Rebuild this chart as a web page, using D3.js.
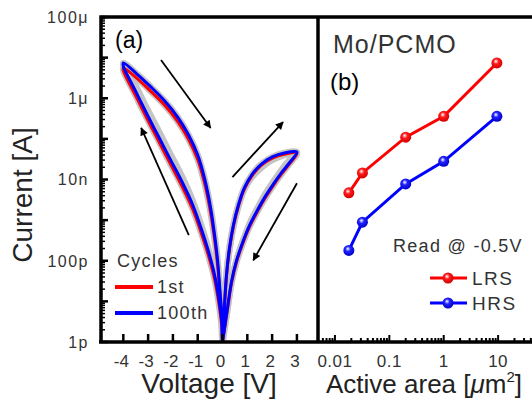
<!DOCTYPE html>
<html>
<head>
<meta charset="utf-8">
<script src="https://cdn.jsdelivr.net/npm/d3@7"></script>
<style>
  body { margin: 0; background: #fff; }
  svg { display: block; font-family: "Liberation Sans", Arial, sans-serif; }
</style>
</head>
<body>
<svg id="chart" width="532" height="403"></svg>
<script>
// ---- data ----
var voltTicks = [-4, -3, -2, -1, 0, 1, 2, 3];
var currentTicks = [1e-4, 1e-6, 1e-8, 1e-10, 1e-12];
var currentLabels = ["100μ", "1μ", "10n", "100p", "1p"];
var areaTicks = [0.01, 0.1, 1, 10];
var areaLabels = ["0.01", "0.1", "1", "10"];

// sweep 0 -> -4 -> 0 -> 3 -> 0, [voltage V, |current| A]
var cycle100th = [
  [0, 1e-12], [-0.04, 3.5e-12], [-0.16, 1.28e-11], [-0.32, 4.5e-11], [-0.56, 1.64e-10],
  [-0.84, 5.7e-10], [-1.2, 2.35e-9], [-1.61, 8.2e-9], [-2.09, 3.0e-8], [-2.57, 1.11e-7],
  [-3.05, 4.1e-7], [-3.53, 1.6e-6], [-4, 6.2e-6],
  [-4, 7.4e-6], [-3.45, 3.95e-6], [-2.89, 1.9e-6], [-2.33, 8.55e-7], [-1.81, 3.45e-7],
  [-1.37, 1.25e-7], [-1.0, 4.0e-8], [-0.72, 1.03e-8], [-0.48, 1.99e-9], [-0.32, 4.3e-10],
  [-0.2, 1.04e-10], [-0.12, 2.5e-11], [-0.04, 5.5e-12], [0, 1e-12],
  [0.08, 8.1e-12], [0.16, 4.5e-11], [0.28, 2.06e-10], [0.44, 7.6e-10], [0.64, 2.35e-9],
  [0.88, 6.2e-9], [1.2, 1.36e-8], [1.57, 2.4e-8], [2.01, 3.6e-8], [2.49, 4.5e-8], [3, 4.75e-8],
  [2.69, 2.55e-8], [2.37, 1.45e-8], [2.05, 7.7e-9], [1.73, 3.9e-9], [1.41, 1.77e-9],
  [1.08, 7.2e-10], [0.8, 2.7e-10], [0.56, 9.9e-11], [0.36, 3.0e-11], [0.2, 6.9e-12], [0, 1e-12]
];
var cycle1st = [
  [0, 1e-12], [-0.04, 2.8e-12], [-0.16, 1.0e-11], [-0.32, 3.5e-11], [-0.56, 1.3e-10],
  [-0.84, 4.5e-10], [-1.2, 1.85e-9], [-1.61, 6.4e-9], [-2.09, 2.35e-8], [-2.57, 8.7e-8],
  [-3.05, 3.2e-7], [-3.53, 1.25e-6], [-4, 4.8e-6],
  [-4, 5.6e-6], [-3.45, 3.1e-6], [-2.89, 1.48e-6], [-2.33, 6.7e-7], [-1.81, 2.7e-7],
  [-1.37, 9.8e-8], [-1.0, 3.1e-8], [-0.72, 8.0e-9], [-0.48, 1.55e-9], [-0.32, 3.4e-10],
  [-0.2, 8.1e-11], [-0.12, 2.0e-11], [-0.04, 4.3e-12], [0, 1e-12],
  [0.08, 7.5e-12], [0.16, 4.2e-11], [0.28, 1.9e-10], [0.44, 7.1e-10], [0.64, 2.2e-9],
  [0.88, 5.8e-9], [1.2, 1.27e-8], [1.57, 2.25e-8], [2.01, 3.35e-8], [2.49, 4.2e-8], [3, 4.45e-8],
  [2.69, 2.4e-8], [2.37, 1.35e-8], [2.05, 7.2e-9], [1.73, 3.6e-9], [1.41, 1.65e-9],
  [1.08, 6.7e-10], [0.8, 2.5e-10], [0.56, 9.2e-11], [0.36, 2.8e-11], [0.2, 6.4e-12], [0, 1e-12]
];
// two of the intermediate cycles (gray band)
var cycleMidA = [
  [0, 1e-12], [-0.04, 4.5e-12], [-0.16, 1.7e-11], [-0.32, 6.2e-11], [-0.56, 2.4e-10],
  [-0.84, 8.6e-10], [-1.2, 3.6e-9], [-1.61, 1.3e-8], [-2.09, 4.8e-8], [-2.57, 1.8e-7],
  [-3.05, 6.6e-7], [-3.53, 2.5e-6], [-4, 6.4e-6],
  [-4, 7.4e-6], [-3.45, 4.1e-6], [-2.89, 2.0e-6], [-2.33, 8.9e-7], [-1.81, 3.6e-7],
  [-1.37, 1.3e-7], [-1.0, 4.2e-8], [-0.72, 1.08e-8], [-0.48, 2.1e-9], [-0.32, 4.5e-10],
  [-0.2, 1.1e-10], [-0.12, 2.6e-11], [-0.04, 5.8e-12], [0, 1e-12],
  [0.08, 7.8e-12], [0.16, 4.3e-11], [0.28, 1.9e-10], [0.44, 6.8e-10], [0.64, 2.0e-9],
  [0.88, 5.0e-9], [1.2, 1.05e-8], [1.57, 1.8e-8], [2.01, 2.8e-8], [2.49, 3.7e-8], [2.95, 4.4e-8],
  [2.69, 3.3e-8], [2.37, 1.9e-8], [2.05, 1.0e-8], [1.73, 5.1e-9], [1.41, 2.3e-9],
  [1.08, 9.4e-10], [0.8, 3.5e-10], [0.56, 1.29e-10], [0.36, 3.9e-11], [0.2, 9e-12], [0, 1e-12]
];
var cycleMidB = [
  [0, 1e-12], [-0.04, 4.2e-12], [-0.16, 1.6e-11], [-0.32, 5.6e-11], [-0.56, 2.1e-10],
  [-0.84, 7.3e-10], [-1.2, 3.0e-9], [-1.61, 1.07e-8], [-2.09, 3.9e-8], [-2.57, 1.45e-7],
  [-3.05, 5.3e-7], [-3.53, 2.1e-6], [-4, 6.3e-6],
  [-4, 7.2e-6], [-3.45, 3.75e-6], [-2.89, 1.8e-6], [-2.33, 8.1e-7], [-1.81, 3.3e-7],
  [-1.37, 1.19e-7], [-1.0, 3.8e-8], [-0.72, 9.8e-9], [-0.48, 1.9e-9], [-0.32, 4.1e-10],
  [-0.2, 9.9e-11], [-0.12, 2.4e-11], [-0.04, 5.2e-12], [0, 1e-12],
  [0.08, 8e-12], [0.16, 4.4e-11], [0.28, 2.0e-10], [0.44, 7.2e-10], [0.64, 2.15e-9],
  [0.88, 5.5e-9], [1.2, 1.2e-8], [1.57, 2.1e-8], [2.01, 3.2e-8], [2.49, 4.1e-8], [2.98, 4.6e-8],
  [2.69, 2.9e-8], [2.37, 1.67e-8], [2.05, 8.9e-9], [1.73, 4.5e-9], [1.41, 2.0e-9],
  [1.08, 8.3e-10], [0.8, 3.1e-10], [0.56, 1.14e-10], [0.36, 3.45e-11], [0.2, 7.9e-12], [0, 1e-12]
];
// sweep direction arrows, [from, to] in [V, A]
var sweepArrows = [
  [[-2.48, 8.7e-6], [-0.48, 1.86e-7]],
  [[-1.36, 4.3e-10], [-3.28, 1.86e-7]],
  [[0.4, 1.15e-8], [2.44, 2.6e-7]],
  [[3.0, 8.1e-9], [1.24, 1.02e-10]]
];

// panel (b): read current at -0.5 V vs. active area (um^2)
var activeArea = [0.018, 0.032, 0.2, 1, 9.5];
var lrsCurrent = [4.7e-9, 1.45e-8, 1.1e-7, 3.6e-7, 7.4e-6];
var hrsCurrent = [1.8e-10, 8.9e-10, 7.8e-9, 2.8e-8, 3.6e-7];

// ---- layout ----
var svg = d3.select("#chart");
var plotTop = 17, plotBottom = 342, leftA = 101, divider = 318, rightEdge = 532;
var tickColor = "#333";

var x = d3.scaleLinear().domain([-4.9, 3.85]).range([leftA, divider]);
var y = d3.scaleLog().domain([1e-12, 1e-4]).range([plotBottom, plotTop]);
var xb = d3.scaleLog().domain([0.00488, 42]).range([divider, rightEdge]);

var defs = svg.append("defs");
defs.append("clipPath").attr("id", "clipA").append("rect")
  .attr("x", leftA).attr("y", plotTop).attr("width", divider - leftA).attr("height", plotBottom - plotTop);
defs.append("marker").attr("id", "arrowHead")
  .attr("viewBox", "0 0 10 10").attr("refX", 9).attr("refY", 5)
  .attr("markerWidth", 12).attr("markerHeight", 8).attr("markerUnits", "userSpaceOnUse")
  .attr("orient", "auto")
  .append("path").attr("d", "M0,0 L10,5 L0,10 Z").attr("fill", "#000");

function ballGradient(id, col, dark) {
  var g = defs.append("radialGradient").attr("id", id)
    .attr("cx", "45%").attr("cy", "40%").attr("r", "60%").attr("fx", "40%").attr("fy", "35%");
  g.append("stop").attr("offset", "0%").attr("stop-color", "#fff");
  g.append("stop").attr("offset", "40%").attr("stop-color", col);
  g.append("stop").attr("offset", "100%").attr("stop-color", dark);
}
ballGradient("ballRed", "#ff1a1a", "#d00000");
ballGradient("ballBlue", "#2020ff", "#0000c8");

// ---- panel (a): I-V curves ----
var line = d3.line()
  .x(function(d) { return x(d[0]); })
  .y(function(d) { return y(d[1]); })
  .curve(d3.curveCatmullRom.alpha(0.5));

var curves = svg.append("g").attr("clip-path", "url(#clipA)");
[cycle1st, cycle100th].forEach(function(c) {
  curves.append("path").attr("d", line(c)).attr("fill", "none")
    .attr("stroke", "#c4c4c4").attr("stroke-width", 6.5).attr("stroke-linejoin", "round");
});
[cycleMidA, cycleMidB].forEach(function(c) {
  curves.append("path").attr("d", line(c)).attr("fill", "none")
    .attr("stroke", "#c4c4c4").attr("stroke-width", 4).attr("stroke-linejoin", "round");
});
curves.append("path").attr("d", line(cycle1st)).attr("fill", "none")
  .attr("stroke", "#ff0000").attr("stroke-width", 3).attr("stroke-linejoin", "round");
curves.append("path").attr("d", line(cycle100th)).attr("fill", "none")
  .attr("stroke", "#0000ff").attr("stroke-width", 3).attr("stroke-linejoin", "round");

svg.append("g").selectAll("line").data(sweepArrows).enter().append("line")
  .attr("x1", function(d) { return x(d[0][0]); })
  .attr("y1", function(d) { return y(d[0][1]); })
  .attr("x2", function(d) { return x(d[1][0]); })
  .attr("y2", function(d) { return y(d[1][1]); })
  .attr("stroke", "#000").attr("stroke-width", 1.8)
  .attr("marker-end", "url(#arrowHead)");

// y axis (inward ticks)
var yMinor = [];
for (var e = -12; e < -4; e++) {
  for (var m = 2; m <= 9; m++) yMinor.push(m * Math.pow(10, e));
}
var yDecades = d3.range(-12, -3).map(function(e) { return Math.pow(10, e); });
var yAxisG = svg.append("g").attr("transform", "translate(" + leftA + ",0)");
yAxisG.selectAll(".minor").data(yMinor).enter().append("line")
  .attr("x1", 0).attr("x2", 4).attr("y1", y).attr("y2", y)
  .attr("stroke", "#000").attr("stroke-width", 1.5);
yAxisG.selectAll(".major").data(yDecades).enter().append("line")
  .attr("x1", 0).attr("x2", 7).attr("y1", y).attr("y2", y)
  .attr("stroke", "#000").attr("stroke-width", 2.5);
yAxisG.selectAll("text").data(currentTicks).enter().append("text")
  .attr("x", -12).attr("y", y).attr("dy", "0.36em")
  .attr("text-anchor", "end").attr("font-size", 16).attr("letter-spacing", 1.5)
  .attr("fill", tickColor)
  .text(function(d, i) { return currentLabels[i]; });

// x axis of panel (a)
var xAxisG = svg.append("g").attr("transform", "translate(0," + plotBottom + ")");
xAxisG.selectAll("line").data(voltTicks).enter().append("line")
  .attr("x1", x).attr("x2", x).attr("y1", 0).attr("y2", -8)
  .attr("stroke", "#000").attr("stroke-width", 2.5);
xAxisG.selectAll("text").data(voltTicks).enter().append("text")
  .attr("x", function(d) { return x(d) - 2; }).attr("y", 25)
  .attr("text-anchor", "middle").attr("font-size", 17).attr("fill", tickColor)
  .text(function(d) { return d; });

// ---- panel (b) ----
var xbTicks = xb.ticks();
var xbAxisG = svg.append("g").attr("transform", "translate(0," + plotBottom + ")");
xbAxisG.selectAll("line").data(xbTicks.filter(function(d) { return xb(d) > divider + 3; }))
  .enter().append("line")
  .attr("x1", xb).attr("x2", xb).attr("y1", 0)
  .attr("y2", function(d) { return areaTicks.indexOf(d) >= 0 ? -7 : -4; })
  .attr("stroke", "#000").attr("stroke-width", 2);
xbAxisG.selectAll("text").data(areaTicks).enter().append("text")
  .attr("x", xb).attr("y", 25)
  .attr("text-anchor", "middle").attr("font-size", 17).attr("letter-spacing", 0.5)
  .attr("fill", tickColor)
  .text(function(d, i) { return areaLabels[i]; });

var lineB = d3.line()
  .x(function(d) { return xb(d[0]); })
  .y(function(d) { return y(d[1]); });
var seriesB = [
  { values: d3.zip(activeArea, lrsCurrent), color: "#ff0000", ball: "url(#ballRed)" },
  { values: d3.zip(activeArea, hrsCurrent), color: "#0000ff", ball: "url(#ballBlue)" }
];
seriesB.forEach(function(s) {
  svg.append("path").attr("d", lineB(s.values)).attr("fill", "none")
    .attr("stroke", s.color).attr("stroke-width", 3);
  svg.append("g").selectAll("circle").data(s.values).enter().append("circle")
    .attr("cx", function(d) { return xb(d[0]); })
    .attr("cy", function(d) { return y(d[1]); })
    .attr("r", 5.5).attr("fill", s.ball);
});

// ---- frames ----
svg.append("path")
  .attr("d", "M" + leftA + "," + plotBottom + "V" + plotTop + "H" + rightEdge)
  .attr("fill", "none").attr("stroke", "#000").attr("stroke-width", 3.5);
svg.append("line").attr("x1", leftA - 2).attr("x2", rightEdge)
  .attr("y1", plotBottom).attr("y2", plotBottom).attr("stroke", "#000").attr("stroke-width", 3.5);
svg.append("line").attr("x1", divider).attr("x2", divider)
  .attr("y1", plotTop).attr("y2", plotBottom).attr("stroke", "#000").attr("stroke-width", 3.5);

// ---- labels ----
svg.append("text").attr("x", 209).attr("y", 393).attr("text-anchor", "middle")
  .attr("font-size", 28).attr("fill", "#222").text("Voltage [V]");
svg.append("text").attr("transform", "translate(32,195) rotate(-90)")
  .attr("text-anchor", "middle").attr("font-size", 28).attr("fill", "#222").text("Current [A]");
var areaLabel = svg.append("text").attr("x", 326).attr("y", 393)
  .attr("font-size", 26).attr("fill", "#222");
areaLabel.append("tspan").text("Active area [");
areaLabel.append("tspan").attr("font-style", "italic").text("μ");
areaLabel.append("tspan").text("m");
areaLabel.append("tspan").attr("dy", -11).attr("font-size", 15).text("2");
areaLabel.append("tspan").attr("dy", 11).text("]");

svg.append("text").attr("x", 115).attr("y", 48).attr("font-size", 23).attr("fill", "#000").text("(a)");
svg.append("text").attr("x", 330).attr("y", 90).attr("font-size", 24).attr("fill", "#000").text("(b)");
svg.append("text").attr("x", 333).attr("y", 53).attr("font-size", 25).attr("letter-spacing", 1)
  .attr("fill", "#333").text("Mo/PCMO");

// legend (a)
svg.append("text").attr("x", 117).attr("y", 267).attr("font-size", 18).attr("letter-spacing", 1.3)
  .attr("fill", "#333").text("Cycles");
var legA = [{ label: "1st", color: "#ff0000", yy: 287 }, { label: "100th", color: "#0000ff", yy: 313 }];
legA.forEach(function(d) {
  svg.append("line").attr("x1", 115).attr("x2", 153).attr("y1", d.yy).attr("y2", d.yy)
    .attr("stroke", d.color).attr("stroke-width", 4);
  svg.append("text").attr("x", 157).attr("y", d.yy + 6).attr("font-size", 18)
    .attr("letter-spacing", 1.3).attr("fill", "#333").text(d.label);
});

// legend (b)
svg.append("text").attr("x", 393).attr("y", 252).attr("font-size", 18).attr("letter-spacing", 1.3)
  .attr("fill", "#333").text("Read @ -0.5V");
var legB = [{ label: "LRS", color: "#ff0000", ball: "url(#ballRed)", yy: 278 },
            { label: "HRS", color: "#0000ff", ball: "url(#ballBlue)", yy: 303 }];
legB.forEach(function(d) {
  svg.append("line").attr("x1", 430).attr("x2", 467).attr("y1", d.yy).attr("y2", d.yy)
    .attr("stroke", d.color).attr("stroke-width", 3);
  svg.append("circle").attr("cx", 448).attr("cy", d.yy).attr("r", 5.5).attr("fill", d.ball);
  svg.append("text").attr("x", 472).attr("y", d.yy + 7).attr("font-size", 19)
    .attr("letter-spacing", 1.5).attr("fill", "#333").text(d.label);
});
</script>
</body>
</html>
